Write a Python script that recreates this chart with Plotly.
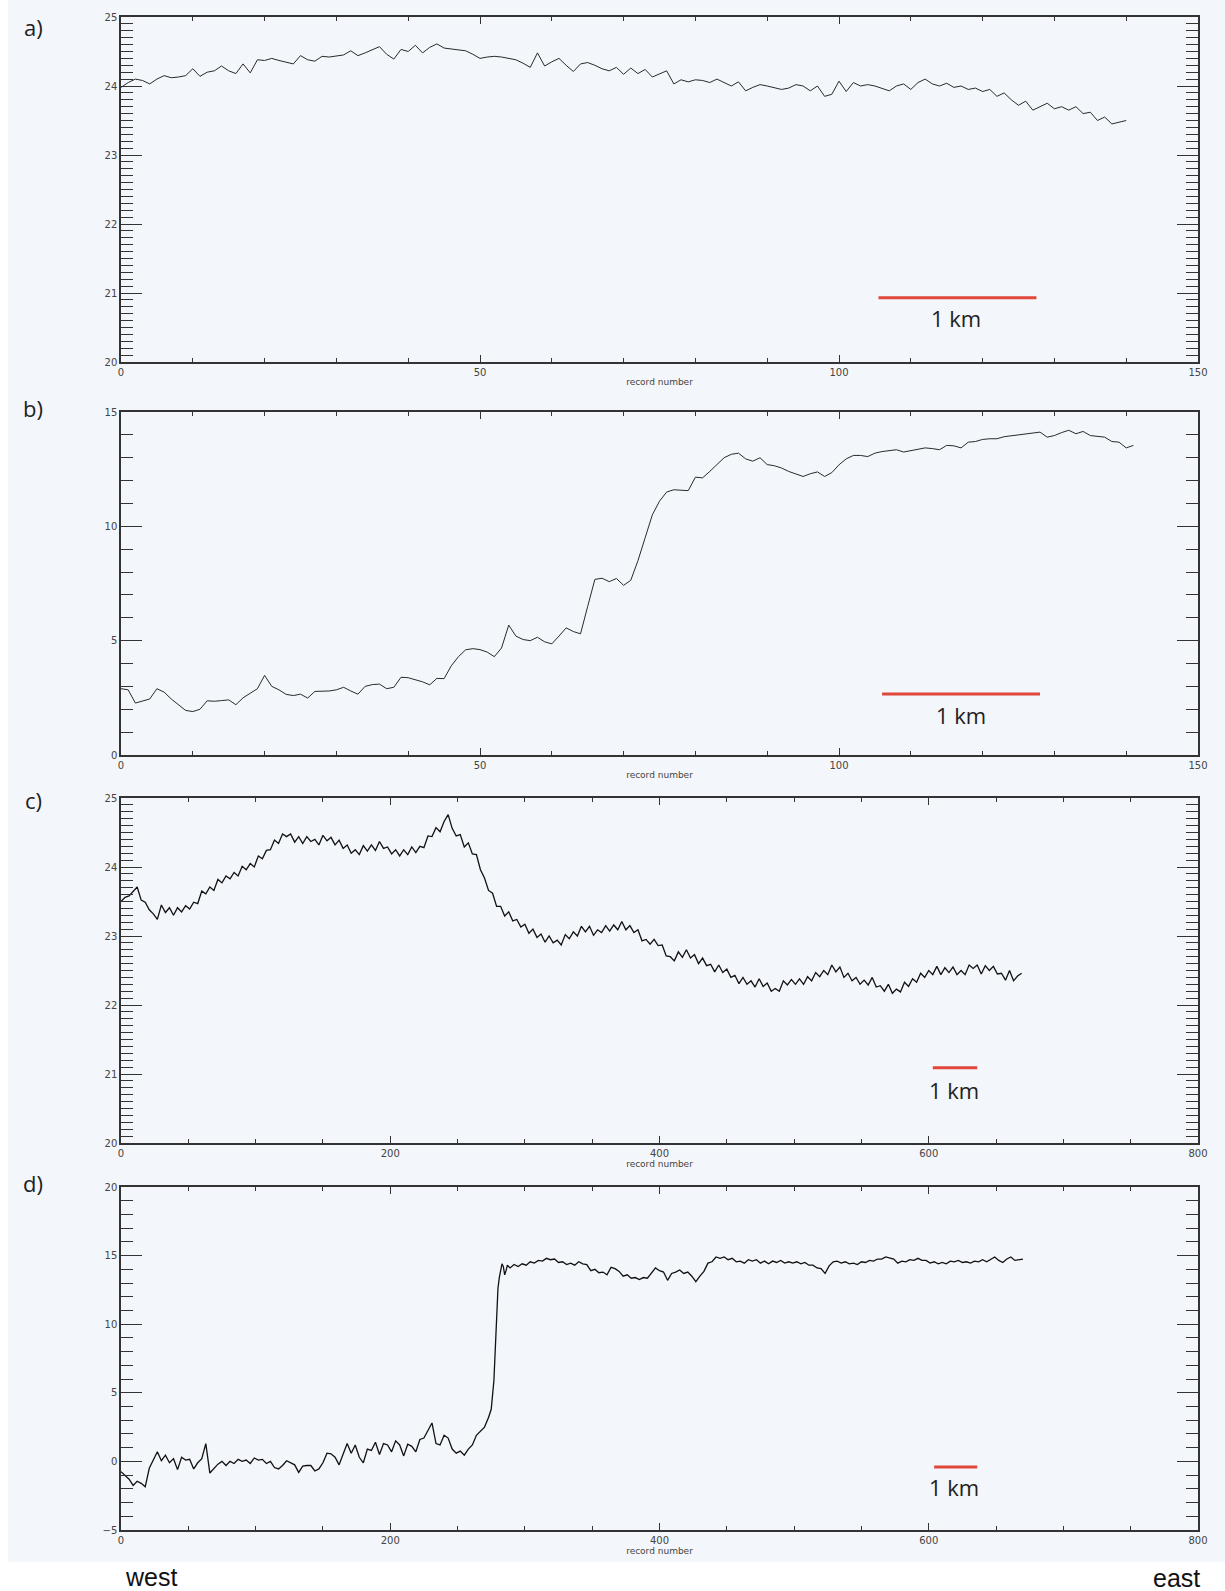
import plotly.graph_objects as go

# ---------------- data ----------------
# panel a) : one value per record 0..140
a_val = [23.98, 24.05, 24.10, 24.08, 24.03, 24.10, 24.15, 24.12, 24.13, 24.15,
         24.25, 24.14, 24.20, 24.22, 24.29, 24.22, 24.18, 24.32, 24.19, 24.38,
         24.37, 24.40, 24.37, 24.34, 24.32, 24.44, 24.38, 24.36, 24.43, 24.42,
         24.43, 24.45, 24.51, 24.44, 24.48, 24.53, 24.57, 24.46, 24.39, 24.53,
         24.50, 24.59, 24.48, 24.56, 24.61, 24.55, 24.54, 24.53, 24.51, 24.46,
         24.40, 24.42, 24.43, 24.42, 24.40, 24.38, 24.33, 24.27, 24.48, 24.29,
         24.35, 24.40, 24.30, 24.21, 24.32, 24.34, 24.30, 24.25, 24.22, 24.27,
         24.17, 24.26, 24.18, 24.24, 24.13, 24.18, 24.22, 24.03, 24.09, 24.06,
         24.09, 24.08, 24.05, 24.10, 24.05, 24.00, 24.06, 23.93, 23.98, 24.02,
         24.00, 23.98, 23.95, 23.97, 24.02, 24.00, 23.93, 24.00, 23.85, 23.88,
         24.07, 23.92, 24.05, 24.00, 24.02, 24.00, 23.97, 23.93, 24.00, 24.03,
         23.95, 24.05, 24.10, 24.03, 24.00, 24.04, 23.98, 24.00, 23.95, 23.97,
         23.92, 23.95, 23.85, 23.90, 23.80, 23.72, 23.78, 23.65, 23.70, 23.75,
         23.67, 23.70, 23.65, 23.70, 23.60, 23.62, 23.50, 23.55, 23.45, 23.48,
         23.50]

# panel b) : one value per record 0..141
b_val = [2.90, 2.85, 2.27, 2.35, 2.45, 2.90, 2.75, 2.45, 2.20, 1.95,
         1.90, 2.00, 2.37, 2.35, 2.38, 2.41, 2.20, 2.50, 2.70, 2.90,
         3.48, 3.00, 2.85, 2.65, 2.60, 2.66, 2.49, 2.78, 2.79, 2.80,
         2.85, 2.96, 2.80, 2.66, 3.00, 3.08, 3.10, 2.90, 2.96, 3.40,
         3.38, 3.30, 3.20, 3.07, 3.35, 3.34, 3.90, 4.30, 4.60, 4.65,
         4.61, 4.50, 4.30, 4.68, 5.68, 5.20, 5.05, 5.00, 5.15, 4.95,
         4.86, 5.20, 5.56, 5.40, 5.30, 6.50, 7.68, 7.73, 7.58, 7.72,
         7.42, 7.64, 8.50, 9.50, 10.50, 11.10, 11.50, 11.60, 11.58, 11.56,
         12.15, 12.12, 12.40, 12.70, 13.00, 13.15, 13.20, 12.95, 12.85, 13.00,
         12.70, 12.65, 12.55, 12.40, 12.30, 12.18, 12.30, 12.38, 12.18, 12.35,
         12.69, 12.95, 13.10, 13.10, 13.05, 13.20, 13.27, 13.30, 13.35, 13.25,
         13.30, 13.35, 13.43, 13.40, 13.35, 13.54, 13.52, 13.43, 13.68, 13.71,
         13.80, 13.83, 13.83, 13.92, 13.96, 14.00, 14.05, 14.10, 14.12, 13.90,
         13.97, 14.10, 14.20, 14.05, 14.15, 13.97, 13.93, 13.90, 13.71, 13.68,
         13.43, 13.54]

# panel c) : values read every 3rd record (0, 3, 6, ... 669)
c_step = 3
c_val = [23.50, 23.56, 23.58, 23.64, 23.71, 23.52, 23.49, 23.38, 23.32, 23.24,
         23.45, 23.34, 23.41, 23.30, 23.41, 23.35, 23.44, 23.39, 23.49, 23.47,
         23.65, 23.61, 23.71, 23.66, 23.82, 23.77, 23.87, 23.83, 23.92, 23.87,
         24.01, 23.96, 24.05, 24.00, 24.16, 24.12, 24.24, 24.25, 24.39, 24.34,
         24.48, 24.44, 24.48, 24.36, 24.44, 24.34, 24.44, 24.37, 24.40, 24.32,
         24.46, 24.38, 24.43, 24.32, 24.39, 24.27, 24.32, 24.20, 24.25, 24.18,
         24.31, 24.23, 24.32, 24.24, 24.37, 24.27, 24.29, 24.19, 24.25, 24.16,
         24.25, 24.18, 24.29, 24.21, 24.30, 24.28, 24.45, 24.44, 24.57, 24.51,
         24.66, 24.76, 24.56, 24.45, 24.47, 24.29, 24.35, 24.19, 24.18, 23.96,
         23.84, 23.66, 23.62, 23.43, 23.43, 23.29, 23.35, 23.22, 23.24, 23.13,
         23.17, 23.04, 23.10, 22.98, 23.03, 22.91, 23.00, 22.90, 22.94, 22.87,
         23.02, 22.96, 23.06, 23.00, 23.14, 23.06, 23.14, 23.01, 23.09, 23.05,
         23.15, 23.07, 23.16, 23.09, 23.21, 23.09, 23.15, 23.05, 23.09, 22.93,
         22.95, 22.88, 22.95, 22.86, 22.87, 22.71, 22.70, 22.64, 22.77, 22.69,
         22.80, 22.68, 22.73, 22.60, 22.68, 22.57, 22.59, 22.48, 22.58, 22.47,
         22.52, 22.40, 22.43, 22.31, 22.40, 22.30, 22.35, 22.26, 22.38, 22.27,
         22.32, 22.20, 22.24, 22.20, 22.35, 22.29, 22.37, 22.30, 22.38, 22.30,
         22.41, 22.35, 22.47, 22.41, 22.50, 22.44, 22.58, 22.48, 22.55, 22.40,
         22.46, 22.35, 22.40, 22.30, 22.36, 22.29, 22.40, 22.26, 22.28, 22.20,
         22.30, 22.17, 22.23, 22.19, 22.33, 22.27, 22.38, 22.33, 22.46, 22.40,
         22.50, 22.44, 22.56, 22.44, 22.54, 22.47, 22.55, 22.44, 22.50, 22.44,
         22.58, 22.53, 22.58, 22.45, 22.57, 22.50, 22.56, 22.45, 22.46, 22.36,
         22.50, 22.35, 22.42, 22.46]

# panel d) : three segments (west side every 3rd record, the jump, east side every 3rd record)
d_west_start, d_step = 0, 3
d_west_val = [-0.75, -1.05, -1.30, -1.75, -1.45, -1.60, -1.85, -0.50, 0.10, 0.70,
              0.05, 0.45, -0.10, 0.20, -0.60, 0.30, 0.10, 0.15, -0.55, -0.10,
              0.20, 1.30, -0.85, -0.55, -0.20, 0.00, -0.30, 0.00, -0.15, 0.15,
              0.00, 0.10, -0.15, 0.25, 0.10, 0.15, -0.15, 0.00, -0.45, -0.55,
              -0.30, 0.05, -0.10, -0.25, -0.80, -0.35, -0.30, -0.30, -0.70, -0.55,
              -0.10, 0.60, 0.55, 0.30, -0.25, 0.50, 1.30, 0.60, 1.20, 0.30,
              -0.10, 0.90, 0.80, 1.40, 0.50, 1.30, 1.20, 0.70, 1.50, 1.20,
              0.40, 1.25, 1.10, 0.70, 1.60, 1.70, 2.20, 2.80, 1.30, 1.20,
              1.90, 1.70, 0.90, 0.60, 0.75, 0.45, 0.90, 1.20, 1.90, 2.20,
              2.50, 3.20]
d_jump_rec = [275, 277, 278, 279, 280, 281, 282, 283, 284, 285, 286, 287]
d_jump_val = [3.8, 5.9, 8.5, 11.2, 12.6, 13.4, 14.0, 14.4, 14.2, 13.6, 13.9, 14.3]
d_east_start = 289
d_east_val = [14.10, 14.35, 14.20, 14.40, 14.30, 14.55, 14.45, 14.65, 14.60, 14.80,
              14.70, 14.75, 14.50, 14.55, 14.35, 14.45, 14.30, 14.55, 14.40, 14.35,
              13.90, 14.00, 13.75, 13.80, 13.60, 14.15, 14.05, 13.85, 13.50, 13.60,
              13.35, 13.40, 13.25, 13.40, 13.35, 13.70, 14.10, 13.90, 13.80, 13.20,
              13.70, 13.80, 13.95, 13.70, 13.80, 13.50, 13.10, 13.50, 13.85, 14.45,
              14.55, 14.90, 14.80, 14.90, 14.70, 14.80, 14.55, 14.60, 14.45, 14.70,
              14.60, 14.70, 14.45, 14.60, 14.40, 14.60, 14.50, 14.65, 14.45, 14.55,
              14.45, 14.55, 14.40, 14.50, 14.30, 14.30, 14.10, 14.05, 13.70, 14.25,
              14.55, 14.60, 14.45, 14.55, 14.40, 14.45, 14.35, 14.55, 14.50, 14.65,
              14.60, 14.75, 14.75, 14.90, 14.80, 14.75, 14.45, 14.60, 14.55, 14.70,
              14.65, 14.80, 14.65, 14.65, 14.45, 14.55, 14.40, 14.50, 14.40, 14.60,
              14.55, 14.65, 14.50, 14.55, 14.45, 14.60, 14.55, 14.70, 14.55, 14.70,
              14.90, 14.65, 14.50, 14.75, 14.90, 14.65, 14.70, 14.75]

panel_labels = ["a)", "b)", "c)", "d)"]
x_ranges = [[0, 150], [0, 150], [0, 800], [0, 800]]
y_ranges = [[20, 25], [0, 15], [20, 25], [-5, 20]]
x_dticks = [50, 50, 200, 200]
x_minor = [10, 10, 50, 50]
y_dticks = [1, 5, 1, 5]
y_minor = [0.1, 1, 0.1, 1]
# scale bars: (x0, x1, y) in data units, label position (x, y)
bars = [(105.5, 127.5, 20.93), (106, 128, 2.67), (603, 636, 21.09), (604, 636, -0.40)]
bar_labels = [(116.3, 20.64), (117, 1.75), (619, 20.77), (619, -1.87)]
bar_text = "1 km"
x_title = "record number"
direction_labels = ["west", "east"]

# ---------------- build ----------------
W, H = 1225, 1591
BG = "#f3f6fa"
x_dom = [121 / W, 1198 / W]
tops = [17, 412, 798, 1187]
bottoms = [362, 755, 1143, 1530]

a_rec = list(range(len(a_val)))
b_rec = list(range(len(b_val)))
c_rec = list(range(0, c_step * len(c_val), c_step))
d_rec = (list(range(d_west_start, d_west_start + d_step * len(d_west_val), d_step))
         + d_jump_rec
         + list(range(d_east_start, d_east_start + d_step * len(d_east_val), d_step)))
d_val = d_west_val + d_jump_val + d_east_val

series = [(a_rec, a_val, "#2a2a2a", 1.0), (b_rec, b_val, "#2a2a2a", 1.0),
          (c_rec, c_val, "#111111", 1.3), (d_rec, d_val, "#111111", 1.3)]

fig = go.Figure()
layout = dict(width=W, height=H, margin=dict(l=0, r=0, t=0, b=0, autoexpand=False),
              paper_bgcolor="white", plot_bgcolor=BG, showlegend=False)

shapes = [dict(type="rect", xref="paper", yref="paper", x0=8 / W, x1=1,
               y0=1 - 1562 / H, y1=1, fillcolor=BG, line=dict(width=0), layer="below")]
annotations = []

for i in range(4):
    n = "" if i == 0 else str(i + 1)
    xa, ya = "x" + n, "y" + n
    xs, ys, col, lw = series[i]
    fig.add_trace(go.Scatter(x=xs, y=ys, mode="lines", xaxis=xa, yaxis=ya,
                             line=dict(color=col, width=lw)))
    ydom = [1 - bottoms[i] / H, 1 - tops[i] / H]
    layout["xaxis" + n] = dict(
        domain=x_dom, anchor=ya, range=x_ranges[i], dtick=x_dticks[i], tick0=0,
        automargin=False,
        ticks="inside", ticklen=7, tickwidth=1.2, tickcolor="#333",
        minor=dict(dtick=x_minor[i], tick0=0, ticks="inside", ticklen=4, tickwidth=1, tickcolor="#333"),
        showline=True, linecolor="#333", linewidth=1.5, mirror="allticks",
        showgrid=False, zeroline=False,
        tickfont=dict(family="DejaVu Sans", size=10, color="#444"),
        title=dict(text=x_title, font=dict(family="DejaVu Sans", size=9, color="#444"), standoff=2),
    )
    layout["yaxis" + n] = dict(
        domain=ydom, anchor=xa, range=y_ranges[i], dtick=y_dticks[i], tick0=0,
        automargin=False,
        ticks="inside", ticklen=21, tickwidth=1.2, tickcolor="#333",
        minor=dict(dtick=y_minor[i], tick0=0, ticks="inside", ticklen=12, tickwidth=1, tickcolor="#333"),
        showline=True, linecolor="#333", linewidth=1.5, mirror="allticks",
        showgrid=False, zeroline=False,
        tickfont=dict(family="DejaVu Sans", size=10, color="#444"),
    )
    bx0, bx1, by = bars[i]
    shapes.append(dict(type="line", xref=xa, yref=ya, x0=bx0, x1=bx1, y0=by, y1=by,
                       line=dict(color="#e0463a", width=3)))
    lx, ly = bar_labels[i]
    annotations.append(dict(x=lx, y=ly, xref=xa, yref=ya, text=bar_text, showarrow=False,
                            font=dict(family="Open Sans", size=22, color="#222"),
                            xanchor="center", yanchor="middle"))

label_y = [27, 408, 800, 1183]
for i in range(4):
    annotations.append(dict(x=33 / W, y=1 - label_y[i] / H, xref="paper", yref="paper",
                            text=panel_labels[i], showarrow=False,
                            font=dict(family="Open Sans", size=22, color="#222"),
                            xanchor="center", yanchor="middle"))

annotations.append(dict(x=151 / W, y=1 - 1577 / H, xref="paper", yref="paper",
                        text=direction_labels[0], showarrow=False,
                        font=dict(family="Liberation Sans", size=25, color="#111"),
                        xanchor="center", yanchor="middle"))
annotations.append(dict(x=1176 / W, y=1 - 1578 / H, xref="paper", yref="paper",
                        text=direction_labels[1], showarrow=False,
                        font=dict(family="Liberation Sans", size=25, color="#111"),
                        xanchor="center", yanchor="middle"))

layout["shapes"] = shapes
layout["annotations"] = annotations
fig.update_layout(**layout)
fig.write_html("out.html", config={"displayModeBar": False},
               post_script="document.body.style.margin='0px';document.body.style.overflow='hidden';")
